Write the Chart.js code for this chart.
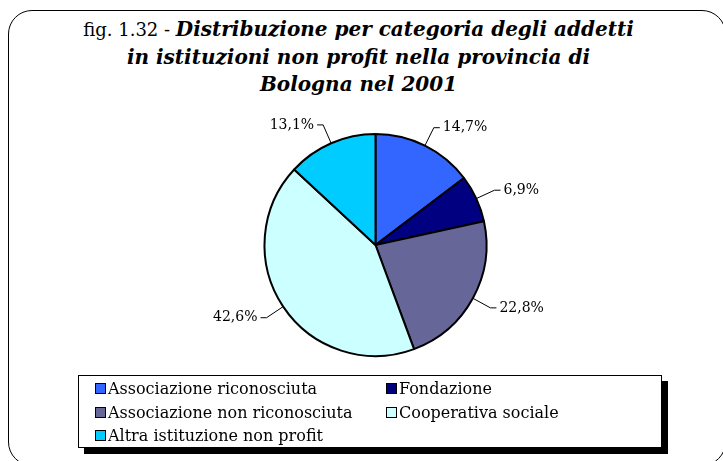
<!DOCTYPE html>
<html>
<head>
<meta charset="utf-8">
<script src="https://cdn.jsdelivr.net/npm/chart.js@4.4.0/dist/chart.umd.min.js"></script>
<style>
  body { margin: 0; width: 723px; height: 461px; overflow: hidden; background: #fff; position: relative; font-family: 'DejaVu Serif', serif; color: #000; }
  #frame { position: absolute; left: 8px; top: 10px; width: 716px; height: 454px; border: 1.5px solid #000; border-radius: 24px; }
  #title { position: absolute; left: 0; top: 16px; width: 717px; text-align: center; font-size: 18px; line-height: 26.5px; }
  #title b { font-style: italic; font-size: 20px; }
  #myChart { position: absolute; left: 0; top: 0; }
  #legend { position: absolute; left: 78px; top: 375px; width: 584px; height: 73px; box-sizing: border-box; border: 1px solid #000; background: #fff; box-shadow: 6px 6px 0 #000; padding: 1px 0 0 16px; display: grid; grid-template-columns: 291px auto; grid-auto-rows: 23.5px; font-size: 16px; }
  .item { display: flex; align-items: center; white-space: nowrap; }
  .mark { display: inline-block; width: 9px; height: 9px; border: 1.5px solid #000; margin-right: 2px; }
</style>
</head>
<body>
<div id="frame"></div>
<div id="title">fig. 1.32 - <b>Distribuzione per categoria degli addetti</b><br><b>in istituzioni non profit nella provincia di</b><br><b>Bologna nel 2001</b></div>
<canvas id="myChart" width="723" height="461"></canvas>
<div id="legend"></div>
<script>
'use strict';

const categories = ['Associazione riconosciuta', 'Fondazione', 'Associazione non riconosciuta', 'Cooperativa sociale', 'Altra istituzione non profit'];
const shares = [14.7, 6.9, 22.8, 42.6, 13.1];
const sliceColors = ['#3366FF', '#000080', '#666699', '#CCFFFF', '#00CCFF'];

function pctLabel(v) {
  return v.toFixed(1).replace('.', ',') + '%';
}

// labels outside the pie with a small leader line
const leaderLabels = {
  id: 'leaderLabels',
  afterDatasetsDraw(chart) {
    let ctx = chart.ctx;
    let arcs = chart.getDatasetMeta(0).data;
    ctx.save();
    ctx.strokeStyle = '#000';
    ctx.lineWidth = 1;
    ctx.fillStyle = '#000';
    ctx.font = '14px "DejaVu Serif"';
    ctx.textBaseline = 'middle';
    arcs.forEach((arc, i) => {
      let p = arc.getProps(['x', 'y', 'startAngle', 'endAngle', 'outerRadius'], true);
      let mid = (p.startAngle + p.endAngle) / 2;
      let cos = Math.cos(mid);
      let sin = Math.sin(mid);
      let x0 = p.x + cos * p.outerRadius;
      let y0 = p.y + sin * p.outerRadius;
      let x1 = p.x + cos * (p.outerRadius + 20);
      let y1 = p.y + sin * (p.outerRadius + 20);
      let dir = cos >= 0 ? 1 : -1;
      let x2 = x1 + dir * 6;
      ctx.beginPath();
      ctx.moveTo(x0, y0);
      ctx.lineTo(x1, y1);
      ctx.lineTo(x2, y1);
      ctx.stroke();
      ctx.textAlign = dir > 0 ? 'left' : 'right';
      ctx.fillText(pctLabel(shares[i]), x2 + dir * 3, y1);
    });
    ctx.restore();
  }
};

let canvasElem = document.getElementById('myChart').getContext('2d');

new Chart(canvasElem, {
  type: 'pie',
  data: {
    labels: categories,
    datasets: [{
      data: shares,
      backgroundColor: sliceColors,
      borderColor: '#000',
      borderWidth: 2,
      radius: 111
    }]
  },
  options: {
    responsive: false,
    animation: false,
    layout: { padding: { left: 28, top: 29, right: 0, bottom: 0 } },
    plugins: {
      legend: { display: false },
      tooltip: { enabled: false }
    }
  },
  plugins: [leaderLabels]
});

// legend, two columns like the original
let legendEl = document.getElementById('legend');
for (let i = 0; i < categories.length; i++) {
  let itemEl = document.createElement('div');
  itemEl.className = 'item';
  let markEl = document.createElement('span');
  markEl.className = 'mark';
  markEl.style.background = sliceColors[i];
  itemEl.appendChild(markEl);
  itemEl.appendChild(document.createTextNode(categories[i]));
  legendEl.appendChild(itemEl);
}
</script>
</body>
</html>
